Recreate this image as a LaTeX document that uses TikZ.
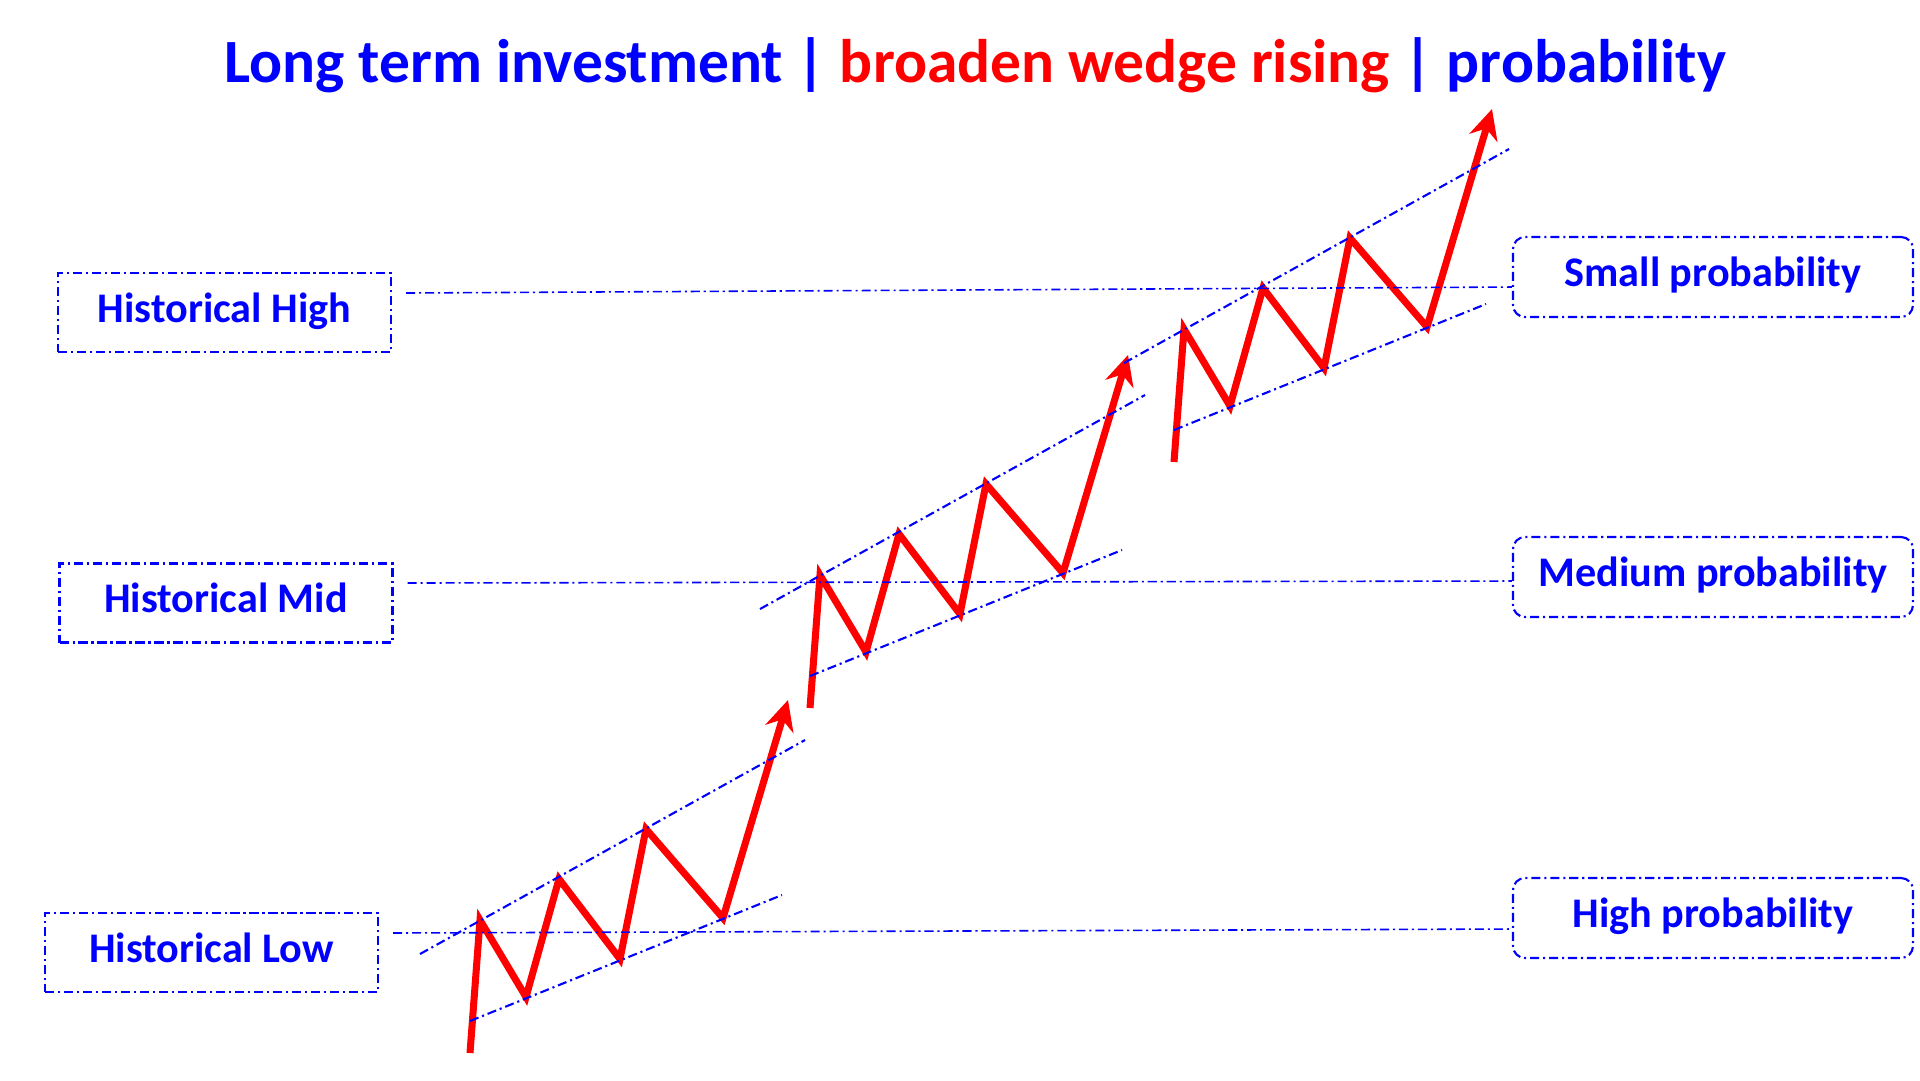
\documentclass[tikz,border=0pt]{standalone}
\usepackage{fontspec}
\setmainfont{Carlito}
\usepackage{xcolor}
\usepackage{tikz}
\usetikzlibrary{arrows.meta}
\definecolor{wedge_red}{RGB}{255,0,0}
\definecolor{wedge_blue}{RGB}{0,0,255}

\begin{document}
\begin{tikzpicture}[x=0.1mm,y=-0.1mm,
                    dashdot/.style={wedge_blue,line width=0.6pt,dash pattern=on 2.6pt off 1.1pt on 0.6pt off 1.1pt},
                    levelbox/.style={dashdot,draw,minimum width=33.3mm,minimum height=7.9mm,
                                     text height=8pt,text depth=2.6pt,
                                     font=\fontsize{12}{14}\selectfont\bfseries,text=wedge_blue},
                    probbox/.style={levelbox,minimum width=40mm,minimum height=8mm,rounded corners=1.2mm},
                    price/.style={wedge_red,line width=2pt,-{Stealth[length=3mm,width=2.9mm]}}]

                    \useasboundingbox (0,0) rectangle (1920,1080);

                    \node[anchor=base,font=\fontsize{17.5}{21}\selectfont\bfseries] (title) at (975.5,82)
                    {\textcolor{wedge_blue}{Long term investment |} \textcolor{wedge_red}{broaden wedge rising} \textcolor{wedge_blue}{| probability}};

                    \node[levelbox] (hh) at (224.5,312.5) {Historical High};
                    \node[levelbox] (hm) at (226,603) {Historical Mid};
                    \node[levelbox] (hl) at (211.5,952.5) {Historical Low};

                    \node[probbox] (sp) at (1713,277) {Small probability};
                    \node[probbox] (mp) at (1713,577) {Medium probability};
                    \node[probbox] (hp) at (1713,918) {High probability};

                    % three rising wedges
                    \foreach \sx/\sy in {470/1053,810/708,1174/462}
                    \draw[price,shift={(\sx,\sy)}] (0,0) -- (10,-133) -- (56,-56) -- (89,-174)
                    -- (150,-94) -- (176,-224) -- (253,-135) -- (318,-353);

                    \foreach \sx/\sy in {470/1053,810/708,1174/462}{
                    \draw[dashdot,shift={(\sx,\sy)}] (-50,-99) -- (335,-313);
                    \draw[dashdot,shift={(\sx,\sy)}] (0,-32) -- (312,-158);
                    }

                    \foreach \a/\b/\l/\r in {hh/sp/1.95/-1.0,hm/mp/2.0/-0.4,hl/hp/1.95/-1.1}
                    \draw[dashdot,line width=0.45pt] ([xshift=1.4mm,yshift=\l mm]\a.east) -- ([yshift=\r mm]\b.west);
                \end{tikzpicture}
\end{document}
